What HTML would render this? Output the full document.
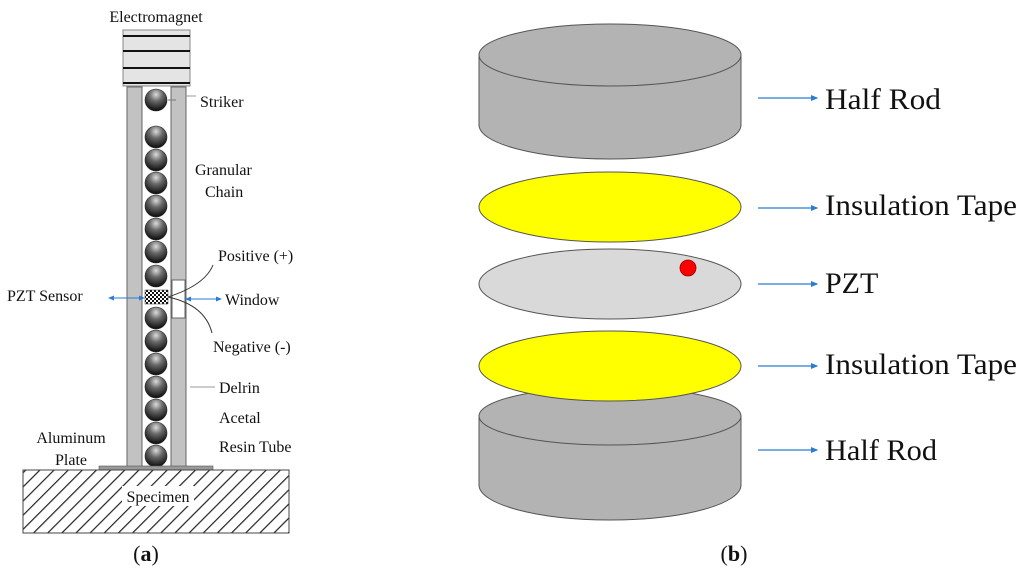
<!DOCTYPE html>
<html><head><meta charset="utf-8"><style>
html,body{margin:0;padding:0;background:#fff;width:1024px;height:578px;overflow:hidden}
svg{display:block}
text{font-family:"Liberation Serif","Times New Roman","DejaVu Serif",serif;fill:#111}
</style></head><body>
<svg width="1024" height="578" viewBox="0 0 1024 578" xmlns="http://www.w3.org/2000/svg" font-family="Liberation Serif, Times New Roman, DejaVu Serif, serif">
<defs>
<radialGradient id="ball" cx="0.5" cy="0.25" r="0.75">
<stop offset="0" stop-color="#dcdcdc"/><stop offset="0.4" stop-color="#6a6a6a"/><stop offset="1" stop-color="#0a0a0a"/>
</radialGradient>
<pattern id="hatch" width="10" height="10" patternUnits="userSpaceOnUse" patternTransform="rotate(45)">
<rect width="10" height="10" fill="#fff"/><line x1="0" y1="0" x2="0" y2="10" stroke="#222" stroke-width="2.4"/>
</pattern>
<pattern id="check" width="4" height="4" patternUnits="userSpaceOnUse">
<rect width="4" height="4" fill="#fff"/><rect width="2" height="2" fill="#111"/><rect x="2" y="2" width="2" height="2" fill="#111"/>
</pattern>
<marker id="ah" markerWidth="6" markerHeight="6" refX="5" refY="3" orient="auto"><path d="M0,0.5 L6,3 L0,5.5z" fill="#2a7dd0"/></marker>
<marker id="ahs" markerWidth="6" markerHeight="6" refX="1" refY="3" orient="auto"><path d="M6,0.5 L0,3 L6,5.5z" fill="#2a7dd0"/></marker>
</defs>

<!-- (a) -->
<text x="156" y="22" font-size="16" text-anchor="middle">Electromagnet</text>
<rect x="123" y="30" width="67" height="56" fill="#e4e4e4" stroke="#888" stroke-width="1"/>
<g stroke="#111" stroke-width="2"><line x1="123" y1="36" x2="190" y2="36"/><line x1="123" y1="51" x2="190" y2="51"/><line x1="123" y1="68" x2="190" y2="68"/><line x1="123" y1="83" x2="190" y2="83"/></g>
<rect x="127" y="87" width="15" height="380" fill="#c2c2c2" stroke="#666" stroke-width="1"/>
<rect x="171" y="87" width="15" height="380" fill="#c2c2c2" stroke="#666" stroke-width="1"/>
<rect x="172" y="280" width="13" height="38" fill="#fff" stroke="#666" stroke-width="1"/>
<g fill="url(#ball)" stroke="#222" stroke-width="0.6">
<circle cx="156" cy="100" r="11"/>
<circle cx="156" cy="137" r="11"/><circle cx="156" cy="160" r="11"/><circle cx="156" cy="183" r="11"/><circle cx="156" cy="206" r="11"/><circle cx="156" cy="229" r="11"/><circle cx="156" cy="252" r="11"/><circle cx="156" cy="276" r="11"/>
<circle cx="156" cy="318" r="11"/><circle cx="156" cy="341" r="11"/><circle cx="156" cy="364" r="11"/><circle cx="156" cy="387" r="11"/><circle cx="156" cy="410" r="11"/><circle cx="156" cy="433" r="11"/><circle cx="156" cy="456" r="11"/>
</g>
<rect x="145" y="290" width="23" height="14" fill="url(#check)" stroke="#333" stroke-width="0.5"/>
<line x1="168" y1="100" x2="176" y2="100" stroke="#777"/>
<line x1="186" y1="96" x2="196" y2="96" stroke="#999"/>
<text x="200" y="107" font-size="16">Striker</text>
<text x="195" y="175" font-size="16">Granular</text>
<text x="205" y="197" font-size="16">Chain</text>
<path d="M168,297 Q205,285 213,265" fill="none" stroke="#333" stroke-width="1"/>
<path d="M168,297 Q205,305 212,333" fill="none" stroke="#333" stroke-width="1"/>
<text x="218" y="261" font-size="16">Positive (+)</text>
<text x="225" y="305" font-size="16">Window</text>
<text x="213" y="352" font-size="16">Negative (-)</text>
<line x1="186" y1="299" x2="221" y2="299" stroke="#2a7dd0" stroke-width="1" marker-end="url(#ah)" marker-start="url(#ahs)"/>
<text x="7" y="301" font-size="16">PZT Sensor</text>
<line x1="109" y1="298" x2="144" y2="298" stroke="#2a7dd0" stroke-width="1" marker-end="url(#ah)" marker-start="url(#ahs)"/>
<line x1="190" y1="387" x2="215" y2="387" stroke="#999"/>
<text x="219" y="393" font-size="16">Delrin</text>
<text x="219" y="423" font-size="16">Acetal</text>
<text x="219" y="452" font-size="16">Resin Tube</text>
<text x="71" y="443" font-size="16" text-anchor="middle">Aluminum</text>
<text x="71" y="465" font-size="16" text-anchor="middle">Plate</text>
<rect x="99" y="466" width="114" height="4" fill="#999" stroke="#555" stroke-width="0.6"/>
<rect x="23" y="470" width="266" height="63" fill="url(#hatch)" stroke="#444" stroke-width="1"/>
<rect x="122" y="486" width="72" height="20" fill="#fff"/>
<text x="158" y="502" font-size="16" text-anchor="middle">Specimen</text>
<text x="146" y="561" font-size="22" text-anchor="middle"><tspan>(</tspan><tspan font-weight="bold">a</tspan><tspan>)</tspan></text>

<!-- (b) -->
<g stroke="#555" stroke-width="1">
<path d="M479,55 L479,125 A131,34 0 0 0 741,125 L741,55 Z" fill="#b3b3b3"/>
<ellipse cx="610" cy="55" rx="131" ry="31" fill="#b3b3b3"/>
<ellipse cx="610" cy="207" rx="131" ry="35" fill="#ffff00"/>
<ellipse cx="610" cy="284" rx="131" ry="35" fill="#d9d9d9"/>
<path d="M479,416 L479,485 A131,35 0 0 0 741,485 L741,416 Z" fill="#b3b3b3"/>
<ellipse cx="610" cy="416" rx="131" ry="29" fill="#b3b3b3"/>
<ellipse cx="610" cy="366" rx="131" ry="35" fill="#ffff00"/>
</g>
<circle cx="688" cy="268" r="8" fill="#ff0000" stroke="#900" stroke-width="0.8"/>
<g stroke="#2a7dd0" stroke-width="1.2" marker-end="url(#ah)">
<line x1="758" y1="98" x2="817" y2="98"/>
<line x1="758" y1="208" x2="817" y2="208"/>
<line x1="758" y1="284" x2="817" y2="284"/>
<line x1="758" y1="366" x2="817" y2="366"/>
<line x1="758" y1="450" x2="817" y2="450"/>
</g>
<text x="825" y="109" font-size="30" textLength="116" lengthAdjust="spacingAndGlyphs">Half Rod</text>
<text x="825" y="215" font-size="30" textLength="192" lengthAdjust="spacingAndGlyphs">Insulation Tape</text>
<text x="825" y="293" font-size="30">PZT</text>
<text x="825" y="374" font-size="30" textLength="192" lengthAdjust="spacingAndGlyphs">Insulation Tape</text>
<text x="825" y="460" font-size="30" textLength="112" lengthAdjust="spacingAndGlyphs">Half Rod</text>
<text x="734" y="561" font-size="22" text-anchor="middle"><tspan>(</tspan><tspan font-weight="bold">b</tspan><tspan>)</tspan></text>
</svg>
</body></html>
